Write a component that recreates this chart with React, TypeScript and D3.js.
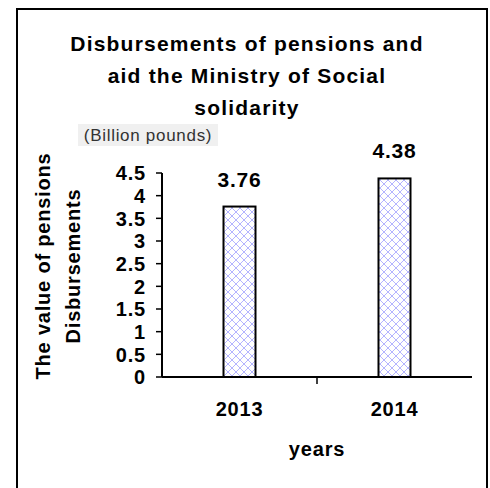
import React from "react";
import * as d3 from "d3";

const categories = ["2013", "2014"];
const values = [3.76, 4.38];
const valueLabels = ["3.76", "4.38"];
const yTicks = [0, 0.5, 1, 1.5, 2, 2.5, 3, 3.5, 4, 4.5];
const titleLines = ["Disbursements of pensions and", "aid the Ministry of Social", "solidarity"];
const yTitleLines = ["The value of pensions", "Disbursements"];
const unitLabel = "(Billion pounds)";
const xTitle = "years";

const FONT = "'Liberation Sans', Arial, Helvetica, sans-serif";

export default function App() {
  const W = 490, H = 488;
  const x0 = 162, x1 = 472, yTop = 173, yBot = 377;
  const x = d3.scaleBand<string>().domain(categories).range([x0, x1]).paddingInner(0).paddingOuter(0);
  const y = d3.scaleLinear().domain([0, 4.5]).range([yBot, yTop]);
  const barW = 32;

  return (
    <svg width={W} height={H} style={{ position: "absolute", left: 0, top: 0 }} fontFamily={FONT}>
      <defs>
        <pattern id="hatch" patternUnits="userSpaceOnUse" width={8} height={8}>
          <rect width={8} height={8} fill="#ffffff" />
          <path d="M0,0 L8,8 M8,0 L0,8" stroke="#b4b4ff" strokeWidth={1} />
        </pattern>
      </defs>
      <rect x={0} y={0} width={W} height={H} fill="#ffffff" />
      <rect x={17} y={9} width={470} height={500} fill="none" stroke="#000" strokeWidth={2} />

      {titleLines.map((t, i) => (
        <text key={i} x={247} y={51 + i * 32} textAnchor="middle" fontSize={21} fontWeight="bold" letterSpacing={1.2} fill="#000">
          {t}
        </text>
      ))}

      <rect x={78} y={124} width={140} height={22} fill="#f0f0f0" />
      <text x={148} y={141} textAnchor="middle" fontSize={17} fill="#333" letterSpacing={0.7}>
        {unitLabel}
      </text>

      {yTitleLines.map((t, i) => (
        <text key={i} transform={`translate(${50 + i * 30},266) rotate(-90)`} textAnchor="middle" fontSize={20} fontWeight="bold" letterSpacing={0.8} fill="#000">
          {t}
        </text>
      ))}

      {categories.map((c, i) => {
        const cx = (x(c) as number) + x.bandwidth() / 2;
        return (
          <g key={c}>
            <rect x={cx - barW / 2} y={y(values[i])} width={barW} height={yBot - y(values[i])} fill="url(#hatch)" stroke="#000" strokeWidth={2} />
            <text x={cx} y={y(values[i]) - 20} textAnchor="middle" fontSize={21} fontWeight="bold" letterSpacing={0.8} fill="#000">
              {valueLabels[i]}
            </text>
            <text x={cx} y={416} textAnchor="middle" fontSize={20} fontWeight="bold" letterSpacing={0.8} fill="#000">
              {c}
            </text>
          </g>
        );
      })}

      <line x1={x0} x2={x0} y1={yTop} y2={yBot} stroke="#000" strokeWidth={2} />
      {yTicks.map((t) => (
        <g key={t}>
          <line x1={x0 - 6} x2={x0} y1={y(t)} y2={y(t)} stroke="#000" strokeWidth={1.5} />
          <text x={146} y={y(t)} dy="0.36em" textAnchor="end" fontSize={20} fontWeight="bold" letterSpacing={0.8} fill="#000">
            {String(t)}
          </text>
        </g>
      ))}
      <line x1={x0} x2={x1} y1={yBot} y2={yBot} stroke="#000" strokeWidth={2} />
      <line x1={x(categories[1]) as number} x2={x(categories[1]) as number} y1={yBot} y2={yBot + 7} stroke="#000" strokeWidth={1.5} />

      <text x={317} y={456} textAnchor="middle" fontSize={20} fontWeight="bold" letterSpacing={0.8} fill="#000">
        {xTitle}
      </text>
    </svg>
  );
}
